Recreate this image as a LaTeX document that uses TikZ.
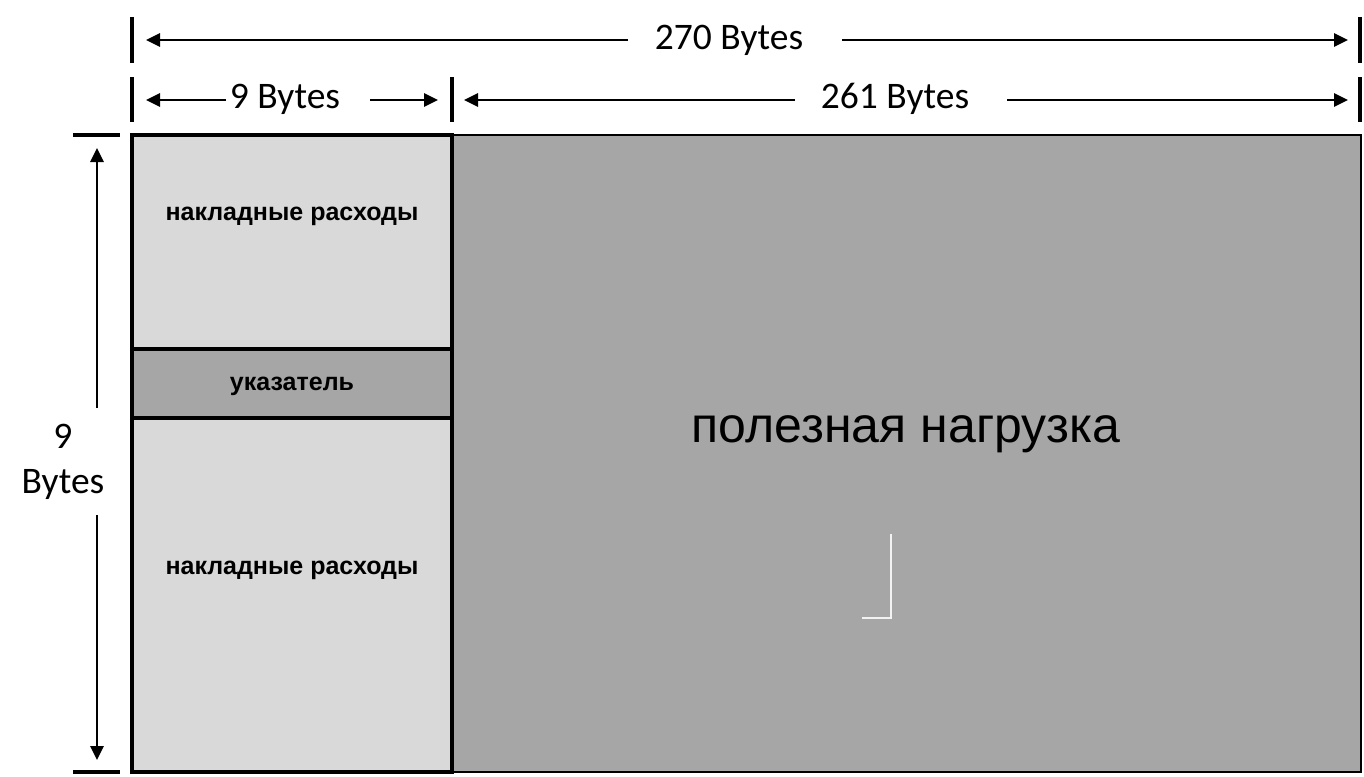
\documentclass[tikz,border=0pt]{standalone}
\usepackage{fontspec}
\setmainfont{Liberation Sans}
\newfontfamily\calib{Carlito}
\usetikzlibrary{arrows.meta}

\definecolor{lightfill}{HTML}{D9D9D9}
\definecolor{darkfill}{HTML}{A6A6A6}

\tikzset{
  block/.style={draw, line width=4pt, fill=lightfill, inner sep=0pt},
  dim/.style={line width=2.6pt, -{Triangle[length=14pt,width=13pt]}},
  tick/.style={line width=4.5pt},
  dimlbl/.style={font=\calib\fontsize{37.5}{45}\selectfont, inner sep=0pt},
  boldlbl/.style={font=\bfseries\fontsize{25}{28}\selectfont, inner sep=0pt}
}

\begin{document}
\begin{tikzpicture}[x=1pt, y=-1pt]
    \useasboundingbox (0,0) rectangle (1364,776);

    % Payload
    \node[draw, line width=1.5pt, fill=darkfill, minimum width=909pt, minimum height=637pt, inner sep=0pt] (pay) at (906.5,453.5) {};
    \node[font=\fontsize{50}{58}\selectfont, inner sep=0pt] (paylbl) at (906,434) {полезная нагрузка};
    \draw[white!95!black, line width=2pt] (891,534) -- (891,618) -- (862,618);

    % Overhead and pointer
    \node[block, minimum width=320pt, minimum height=214pt] (ovh1) at (292,242) {};
    \node[block, fill=darkfill, minimum width=320pt, minimum height=69pt] (ptr) at (292,383.5) {};
    \node[block, minimum width=320pt, minimum height=354pt] (ovh2) at (292,595) {};
    \node[boldlbl] (ovh1lbl) at (292,216) {накладные расходы};
    \node[boldlbl] (ptrlbl) at (292,386) {указатель};
    \node[boldlbl] (ovh2lbl) at (292,570) {накладные расходы};

    % Ticks
    \draw[tick] (132,17) -- (132,63);
    \draw[tick] (132,77) -- (132,122);
    \draw[tick] (452,77) -- (452,122);
    \draw[tick] (1360,17) -- (1360,63);
    \draw[tick] (1360,77) -- (1360,122);
    \draw[tick] (73,135) -- (120,135);
    \draw[tick] (73,772) -- (120,772);

    % 270 Bytes
    \node[dimlbl] (w270) at (729,40) {270 Bytes};
    \coordinate (w270a) at (628,40);
    \coordinate (w270b) at (842,40);
    \coordinate (w270l) at (146,40);
    \coordinate (w270r) at (1348,40);
    \draw[dim] (w270a) -- (w270l);
    \draw[dim] (w270b) -- (w270r);

    % 9 Bytes
    \node[dimlbl] (w9) at (285,99) {9 Bytes};
    \coordinate (w9a) at (226,100);
    \coordinate (w9b) at (370,100);
    \coordinate (w9l) at (146,100);
    \coordinate (w9r) at (438,100);
    \draw[dim] (w9a) -- (w9l);
    \draw[dim] (w9b) -- (w9r);

    % 261 Bytes
    \node[dimlbl] (w261) at (895,99) {261 Bytes};
    \coordinate (w261a) at (795,100);
    \coordinate (w261b) at (1007,100);
    \coordinate (w261l) at (464,100);
    \coordinate (w261r) at (1348,100);
    \draw[dim] (w261a) -- (w261l);
    \draw[dim] (w261b) -- (w261r);

    % 9 Bytes (rows)
    \node[dimlbl, align=center] (h9) at (63,462) {9\\Bytes};
    \coordinate (h9a) at (97,408);
    \coordinate (h9b) at (97,515);
    \coordinate (h9t) at (97,148);
    \coordinate (h9d) at (97,760);
    \draw[dim] (h9a) -- (h9t);
    \draw[dim] (h9b) -- (h9d);
\end{tikzpicture}
\end{document}
